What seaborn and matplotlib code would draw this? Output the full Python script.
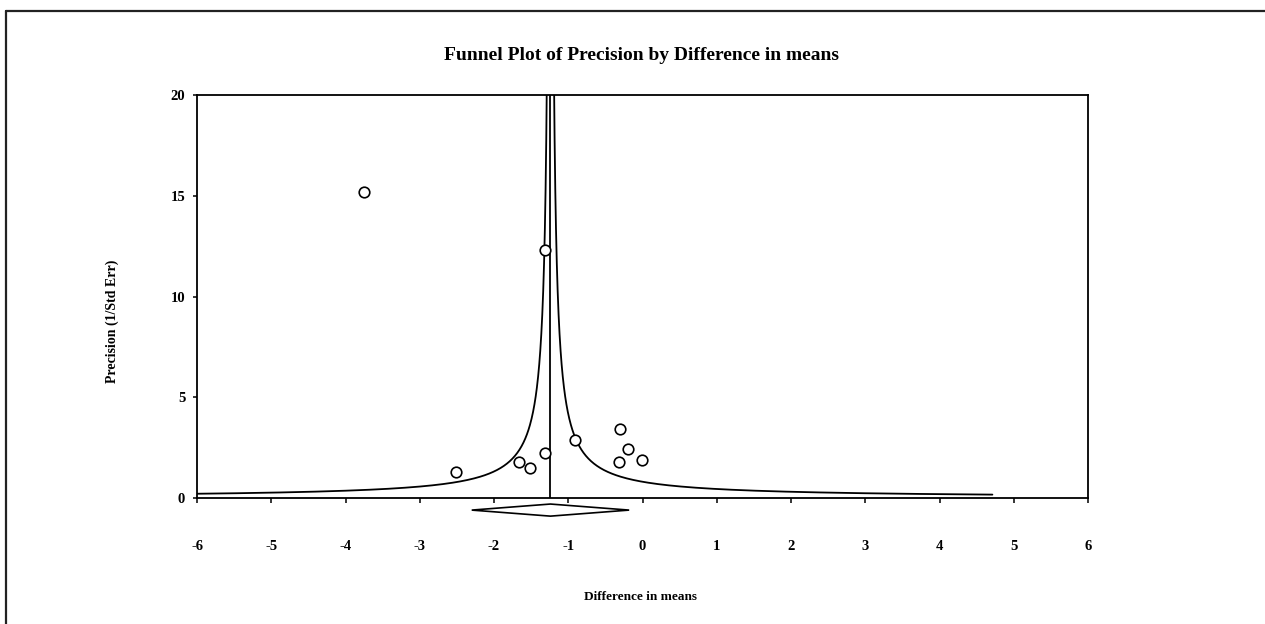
import numpy as np
import pandas as pd
import matplotlib
matplotlib.use("Agg")
import matplotlib.pyplot as plt
from matplotlib.lines import Line2D
from matplotlib.patches import Polygon
import seaborn as sns

# ---- data ----
diff_means = [-3.75, -1.31, -2.51, -1.67, -1.51, -1.31, -0.91, -0.30, -0.20, -0.31, -0.01]
precision = [15.19, 12.31, 1.31, 1.77, 1.50, 2.25, 2.88, 3.42, 2.43, 1.77, 1.87]
pooled_mean = -1.24
ci_low, ci_high = -2.30, -0.18
funnel_k = 1.0           # half-width multiplier of the funnel (mean +/- k / precision)
funnel_prec_min = 0.168  # lowest precision on the funnel
x_ticks = [-6, -5, -4, -3, -2, -1, 0, 1, 2, 3, 4, 5, 6]
y_ticks = [0, 5, 10, 15, 20]

sns.set_style("white")
plt.rcParams["font.family"] = ["Liberation Serif", "DejaVu Serif"]
plt.rcParams["font.weight"] = "bold"
plt.rcParams["text.color"] = "black"
plt.rcParams["xtick.color"] = "black"
plt.rcParams["ytick.color"] = "black"

W, H = 1265, 624
fig = plt.figure(figsize=(W / 100, H / 100), dpi=100)
ax = fig.add_axes([197 / W, 1 - 498 / H, (1088 - 197) / W, (498 - 95) / H])

df = pd.DataFrame({"diff": diff_means, "prec": precision})

# funnel
prec_curve = np.geomspace(funnel_prec_min, 40, 400)
ax.plot(pooled_mean - funnel_k / prec_curve, prec_curve, color="black", lw=1.3, zorder=2)
ax.plot(pooled_mean + funnel_k / prec_curve, prec_curve, color="black", lw=1.3, zorder=2)
ax.plot([pooled_mean, pooled_mean], [0, 20], color="black", lw=1.3, zorder=2)

sns.scatterplot(data=df, x="diff", y="prec", ax=ax, marker="o", s=58,
                facecolor="white", edgecolor="black", linewidth=1.2, zorder=3)

# summary diamond below the axis
diamond = Polygon([[ci_low, -0.6], [pooled_mean, -0.3], [ci_high, -0.6], [pooled_mean, -0.9]],
                  closed=True, facecolor="white", edgecolor="black", lw=1.2, clip_on=False)
ax.add_patch(diamond)

ax.set_xlim(-6, 6)
ax.set_ylim(0, 20)
ax.set_xticks(x_ticks)
ax.set_yticks(y_ticks)
ax.set_xticklabels([str(t) for t in x_ticks], fontsize=10.5, fontweight="bold")
ax.set_yticklabels([str(t) for t in y_ticks], fontsize=10.5, fontweight="bold")
ax.tick_params(axis="x", bottom=True, direction="out", length=3.6, width=1.1, pad=27, color="black")
ax.tick_params(axis="y", left=True, direction="out", length=3.0, width=1.1, pad=5.5, color="black")
ax.set_xlabel("")
ax.set_ylabel("")
for sp in ax.spines.values():
    sp.set_visible(True)
    sp.set_color("black")
    sp.set_linewidth(1.3)

fig.text(641 / W, 1 - 55 / H, "Funnel Plot of Precision by Difference in means",
         ha="center", va="center", fontsize=14, fontweight="bold", color="black")
fig.text(641 / W, 1 - 597 / H, "Difference in means",
         ha="center", va="center", fontsize=9.5, fontweight="bold", color="black")
fig.text(112 / W, 1 - 321 / H, "Precision (1/Std Err)", rotation=90,
         ha="center", va="center", fontsize=10, fontweight="bold", color="black")

# outer frame
fig.add_artist(Line2D([6 / W, 6 / W], [0, 1 - 11 / H], color="#222222", lw=1.6, transform=fig.transFigure))
fig.add_artist(Line2D([6 / W, 1], [1 - 11 / H, 1 - 11 / H], color="#222222", lw=1.6, transform=fig.transFigure))

fig.savefig("out.png", dpi=100, facecolor="white")
